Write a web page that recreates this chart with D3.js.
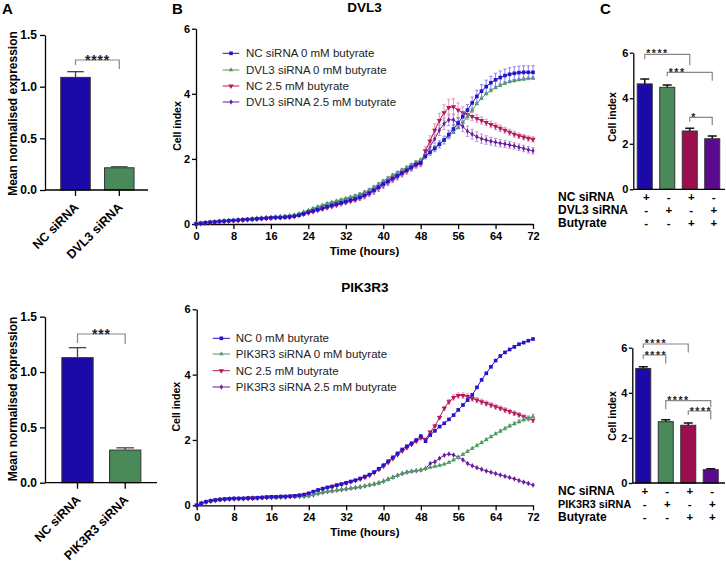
<!DOCTYPE html>
<html><head><meta charset="utf-8">
<script src="https://cdn.jsdelivr.net/npm/d3@7"></script>
<style>
html,body{margin:0;padding:0;background:#fff;}
svg{display:block;}
</style></head><body>
<svg id="c" width="726" height="562"></svg>
<script>
// ---------------- DATA ----------------
const hours = [0,1,2,3,4,5,6,7,8,9,10,11,12,13,14,15,16,17,18,19,20,21,22,23,24,25,26,27,28,29,30,31,32,33,34,35,36,37,38,39,40,41,42,43,44,45,46,47,48,49,50,51,52,53,54,55,56,57,58,59,60,61,62,63,64,65,66,67,68,69,70,71,72];
const hourTicks = [0,8,16,24,32,40,48,56,64,72];
const cellIndexTicks = [0,2,4,6];
const expressionTicks = [0,0.5,1.0,1.5];

// Panel A qPCR
const qpcrDVL3Cats = ["NC siRNA","DVL3 siRNA"];
const qpcrDVL3Mean = [1.09, 0.215];
const qpcrDVL3Err = [0.055, 0.01];
const qpcrDVL3Sig = "****";
const qpcrPIK3R3Cats = ["NC siRNA","PIK3R3 siRNA"];
const qpcrPIK3R3Mean = [1.13, 0.295];
const qpcrPIK3R3Err = [0.09, 0.02];
const qpcrPIK3R3Sig = "***";

// Panel B DVL3 time courses
const dvl3Legend = ["NC siRNA 0 mM butyrate","DVL3 siRNA 0 mM butyrate","NC 2.5 mM butyrate","DVL3 siRNA 2.5 mM butyrate"];
const dvl3NC0 = [0.00,0.02,0.04,0.05,0.06,0.08,0.09,0.10,0.11,0.12,0.13,0.14,0.15,0.16,0.17,0.18,0.19,0.20,0.20,0.21,0.22,
 0.24,0.27,0.31,0.36,0.40,0.44,0.48,0.53,0.57,0.61,0.65,0.69,0.73,0.77,0.82,0.88,0.95,1.04,1.13,1.23,1.31,1.40,1.48,1.57,1.65,1.74,1.83,1.88,
 2.08,2.20,2.32,2.45,2.58,2.75,2.92,3.10,3.30,3.50,3.72,3.92,4.08,4.22,4.34,4.43,4.50,4.56,4.60,4.63,4.65,4.66,4.66,4.66];
const dvl3Si0 = [0.00,0.02,0.04,0.06,0.07,0.09,0.10,0.11,0.12,0.13,0.14,0.15,0.16,0.18,0.19,0.20,0.21,0.22,0.23,0.24,0.26,
 0.28,0.32,0.37,0.42,0.48,0.53,0.58,0.63,0.67,0.71,0.75,0.79,0.83,0.87,0.92,0.98,1.05,1.13,1.22,1.32,1.41,1.50,1.58,1.66,1.74,1.82,1.90,1.97,
 2.10,2.22,2.34,2.46,2.58,2.70,2.82,2.96,3.12,3.30,3.50,3.70,3.86,4.00,4.10,4.19,4.26,4.32,4.37,4.40,4.43,4.45,4.47,4.48];
const dvl3NC25 = [0.00,0.02,0.03,0.05,0.06,0.07,0.08,0.09,0.10,0.11,0.12,0.13,0.14,0.15,0.16,0.17,0.18,0.19,0.19,0.20,0.21,
 0.23,0.26,0.30,0.34,0.38,0.42,0.46,0.50,0.54,0.58,0.62,0.66,0.70,0.74,0.79,0.85,0.92,1.00,1.09,1.18,1.27,1.36,1.44,1.53,1.62,1.71,1.80,1.85,
 2.25,2.55,2.88,3.18,3.42,3.58,3.60,3.50,3.42,3.36,3.30,3.24,3.18,3.12,3.06,3.00,2.94,2.88,2.82,2.76,2.71,2.67,2.63,2.60];
const dvl3Si25 = [0.00,0.02,0.04,0.05,0.07,0.08,0.09,0.10,0.11,0.12,0.13,0.14,0.15,0.17,0.18,0.19,0.20,0.21,0.22,0.23,0.25,
 0.27,0.30,0.35,0.40,0.45,0.50,0.55,0.59,0.63,0.67,0.71,0.75,0.79,0.83,0.88,0.94,1.01,1.09,1.18,1.27,1.36,1.45,1.53,1.61,1.69,1.77,1.85,1.92,
 2.15,2.38,2.62,2.88,3.08,3.20,3.20,3.10,3.00,2.85,2.76,2.68,2.62,2.58,2.54,2.51,2.48,2.46,2.43,2.40,2.36,2.32,2.28,2.25];
const dvl3NC0Err = [0.00,0.01,0.01,0.01,0.01,0.01,0.01,0.01,0.01,0.01,0.01,0.01,0.02,0.02,0.02,0.02,0.02,0.02,0.02,0.02,0.02,
 0.02,0.03,0.03,0.03,0.03,0.04,0.04,0.04,0.04,0.05,0.05,0.05,0.05,0.06,0.06,0.07,0.07,0.08,0.08,0.08,0.08,0.08,0.08,0.08,0.08,0.08,0.08,0.08,
 0.08,0.09,0.10,0.11,0.12,0.13,0.14,0.15,0.16,0.17,0.18,0.19,0.20,0.20,0.20,0.20,0.20,0.20,0.20,0.20,0.20,0.20,0.20,0.20];
const dvl3Si0Err = [0.00,0.01,0.01,0.01,0.01,0.01,0.01,0.01,0.01,0.01,0.01,0.01,0.01,0.01,0.01,0.01,0.01,0.01,0.01,0.01,0.01,
 0.02,0.02,0.02,0.02,0.02,0.02,0.02,0.02,0.02,0.02,0.02,0.02,0.02,0.03,0.03,0.03,0.03,0.03,0.03,0.03,0.03,0.03,0.03,0.03,0.03,0.03,0.03,0.03,
 0.03,0.03,0.03,0.03,0.03,0.03,0.03,0.03,0.04,0.04,0.04,0.04,0.04,0.04,0.04,0.04,0.04,0.04,0.04,0.04,0.04,0.04,0.04,0.04];
const dvl3NC25Err = [0.00,0.01,0.01,0.01,0.01,0.01,0.01,0.01,0.01,0.01,0.01,0.01,0.01,0.01,0.01,0.01,0.01,0.01,0.01,0.01,0.01,
 0.02,0.02,0.02,0.02,0.03,0.03,0.03,0.03,0.04,0.04,0.04,0.05,0.05,0.06,0.07,0.08,0.08,0.09,0.09,0.09,0.09,0.09,0.09,0.09,0.09,0.09,0.09,0.09,
 0.12,0.16,0.20,0.22,0.24,0.25,0.25,0.22,0.18,0.15,0.13,0.12,0.11,0.10,0.10,0.10,0.10,0.09,0.09,0.09,0.08,0.08,0.08,0.08];
const dvl3Si25Err = [0.00,0.01,0.01,0.01,0.01,0.01,0.01,0.01,0.01,0.01,0.01,0.01,0.01,0.01,0.01,0.01,0.01,0.01,0.01,0.01,0.01,
 0.02,0.02,0.02,0.02,0.03,0.03,0.03,0.03,0.04,0.04,0.04,0.05,0.05,0.06,0.07,0.08,0.08,0.09,0.09,0.09,0.09,0.09,0.09,0.09,0.09,0.09,0.09,0.09,
 0.10,0.12,0.14,0.16,0.18,0.18,0.18,0.17,0.16,0.16,0.15,0.15,0.14,0.13,0.12,0.12,0.11,0.11,0.10,0.10,0.10,0.10,0.10,0.10];

// Panel B PIK3R3 time courses
const pikLegend = ["NC 0 mM butyrate","PIK3R3 siRNA 0 mM butyrate","NC 2.5 mM butyrate","PIK3R3 siRNA 2.5 mM butyrate"];
const pikNC0 = [0.00,0.06,0.11,0.14,0.16,0.18,0.19,0.20,0.21,0.21,0.21,0.22,0.22,0.23,0.24,0.25,0.26,0.26,0.27,0.27,0.28,
 0.29,0.31,0.33,0.37,0.42,0.47,0.51,0.55,0.58,0.62,0.65,0.69,0.73,0.77,0.82,0.88,0.94,1.02,1.12,1.23,1.35,1.47,1.59,1.71,1.81,1.90,2.00,2.12,
 1.96,2.15,2.28,2.41,2.51,2.63,2.76,2.92,3.07,3.22,3.38,3.61,3.84,4.04,4.24,4.43,4.57,4.68,4.77,4.85,4.93,4.98,5.04,5.09];
const pikSi0 = [0.00,0.06,0.10,0.13,0.15,0.17,0.19,0.20,0.20,0.21,0.21,0.22,0.22,0.23,0.23,0.24,0.24,0.25,0.25,0.26,0.26,
 0.27,0.27,0.28,0.29,0.33,0.37,0.40,0.42,0.44,0.46,0.48,0.50,0.52,0.54,0.56,0.59,0.62,0.65,0.68,0.73,0.79,0.85,0.91,0.97,1.01,1.04,1.06,1.08,
 1.13,1.16,1.19,1.22,1.26,1.31,1.39,1.47,1.56,1.65,1.74,1.83,1.92,2.01,2.10,2.19,2.27,2.35,2.43,2.50,2.56,2.62,2.67,2.72];
const pikNC25 = [0.00,0.06,0.10,0.13,0.16,0.18,0.19,0.20,0.20,0.21,0.21,0.22,0.22,0.23,0.24,0.25,0.25,0.26,0.26,0.27,0.28,
 0.29,0.30,0.33,0.36,0.41,0.46,0.50,0.54,0.57,0.61,0.64,0.68,0.72,0.76,0.81,0.86,0.92,1.00,1.10,1.20,1.31,1.43,1.55,1.66,1.76,1.86,1.96,2.06,
 2.02,2.24,2.43,2.69,2.97,3.17,3.30,3.36,3.36,3.33,3.27,3.22,3.17,3.12,3.07,3.02,2.97,2.92,2.87,2.82,2.77,2.71,2.66,2.61];
const pikSi25 = [0.00,0.06,0.10,0.13,0.15,0.17,0.18,0.19,0.20,0.20,0.21,0.21,0.22,0.22,0.23,0.23,0.24,0.24,0.25,0.25,0.26,
 0.26,0.27,0.28,0.29,0.32,0.36,0.39,0.42,0.44,0.46,0.48,0.50,0.52,0.54,0.56,0.59,0.62,0.65,0.69,0.74,0.80,0.86,0.92,0.97,1.01,1.04,1.06,1.08,
 1.13,1.28,1.33,1.44,1.53,1.57,1.54,1.47,1.39,1.28,1.21,1.15,1.10,1.05,1.01,0.97,0.93,0.89,0.85,0.81,0.76,0.71,0.67,0.62];
const pikNC0Err = [0.00,0.01,0.01,0.01,0.01,0.01,0.01,0.01,0.01,0.01,0.01,0.01,0.01,0.01,0.01,0.01,0.01,0.01,0.01,0.01,0.01,
 0.02,0.02,0.02,0.02,0.02,0.02,0.02,0.02,0.02,0.02,0.02,0.02,0.02,0.02,0.02,0.02,0.02,0.02,0.02,0.02,0.02,0.02,0.02,0.02,0.02,0.02,0.02,0.02,
 0.03,0.03,0.03,0.03,0.03,0.03,0.03,0.03,0.03,0.03,0.03,0.03,0.03,0.03,0.03,0.03,0.03,0.03,0.03,0.03,0.03,0.03,0.03,0.03];
const pikSi0Err = [0.00,0.01,0.01,0.01,0.01,0.01,0.01,0.01,0.01,0.01,0.01,0.01,0.01,0.01,0.01,0.01,0.01,0.01,0.01,0.01,0.01,
 0.02,0.02,0.02,0.02,0.02,0.02,0.02,0.02,0.02,0.02,0.02,0.02,0.02,0.02,0.02,0.02,0.02,0.02,0.02,0.02,0.02,0.02,0.02,0.02,0.02,0.02,0.02,0.02,
 0.02,0.02,0.02,0.02,0.02,0.02,0.03,0.03,0.03,0.03,0.03,0.04,0.04,0.04,0.04,0.04,0.05,0.05,0.05,0.05,0.06,0.06,0.06,0.07];
const pikNC25Err = [0.00,0.01,0.01,0.01,0.01,0.01,0.01,0.01,0.01,0.01,0.01,0.01,0.01,0.01,0.01,0.01,0.01,0.01,0.01,0.01,0.01,
 0.02,0.02,0.02,0.02,0.02,0.02,0.02,0.02,0.02,0.02,0.02,0.02,0.02,0.02,0.02,0.02,0.02,0.02,0.02,0.02,0.02,0.02,0.02,0.02,0.02,0.02,0.02,0.02,
 0.02,0.03,0.04,0.05,0.06,0.07,0.08,0.08,0.08,0.08,0.08,0.08,0.08,0.07,0.07,0.07,0.07,0.07,0.07,0.07,0.07,0.07,0.07,0.07];
const pikSi25Err = [0.00,0.01,0.01,0.01,0.01,0.01,0.01,0.01,0.01,0.01,0.01,0.01,0.01,0.01,0.01,0.01,0.01,0.01,0.01,0.01,0.01,
 0.01,0.01,0.01,0.01,0.01,0.01,0.01,0.01,0.01,0.01,0.01,0.01,0.01,0.01,0.01,0.01,0.01,0.01,0.01,0.01,0.01,0.01,0.01,0.01,0.01,0.01,0.01,0.01,
 0.02,0.02,0.02,0.02,0.02,0.02,0.02,0.02,0.02,0.02,0.02,0.02,0.02,0.02,0.02,0.02,0.02,0.02,0.02,0.02,0.02,0.02,0.02,0.02];

// Panel C endpoint bars
const barDVL3Mean = [4.63, 4.48, 2.56, 2.22];
const barDVL3Err = [0.21, 0.10, 0.12, 0.12];
const barPIK3R3Mean = [5.08, 2.72, 2.56, 0.59];
const barPIK3R3Err = [0.07, 0.08, 0.10, 0.04];
const rowsDVL3 = ["NC siRNA","DVL3 siRNA","Butyrate"];
const rowsPIK3R3 = ["NC siRNA","PIK3R3 siRNA","Butyrate"];
const rowSigns = [["+","-","+","-"],["-","+","-","+"],["-","-","+","+"]];
const sigDVL3 = [["****",0,2],["***",1,3],["*",2,3]];
const sigPIK3R3 = [["****",0,2],["****",0,1],["****",1,3],["****",2,3]];

// ---------------- STYLE ----------------
const FONT = '"Liberation Sans", Arial, Helvetica, sans-serif';
const COL = {blue:"#2414cc", green:"#4f9a63", pink:"#b3195b", purple:"#6a1b9e"};
const ECOL = {blue:"#7f76e6", green:"#93c9a2", pink:"#e08db0", purple:"#b28ad2"};
const BAR = ["#1c0aa8","#4a8a58","#9c0f4e","#5a0b8c"];

const svg = d3.select("#c").attr("font-family", FONT);

function styleAxis(g, fs){
  g.attr("font-family", FONT).attr("font-size", fs).attr("font-weight","bold");
  g.select(".domain").attr("stroke","#000").attr("stroke-width",1.3);
  g.selectAll(".tick line").attr("stroke","#000").attr("stroke-width",1.3);
  g.selectAll(".tick text").attr("fill","#000");
}
function text(x,y,s,o){
  o = o||{};
  const t = svg.append("text").attr("x",x).attr("y",y).text(s)
    .attr("font-size",o.fs||11).attr("font-weight",o.fw||"bold")
    .attr("text-anchor",o.anchor||"start").attr("fill",o.fill||"#000");
  if(o.rot!==undefined) t.attr("transform",`rotate(${o.rot},${x},${y})`);
  if(o.ls) t.attr("letter-spacing",o.ls);
  return t;
}

// panel letters
text(2,14,"A",{fs:15});
text(172,14,"B",{fs:15});
text(600,14,"C",{fs:15});

// ---------------- PANEL A ----------------
function qpcrPanel(cats, means, errs, sig, cfg){
  const y = d3.scaleLinear().domain([0,1.5]).range([cfg.y0, cfg.yTop]);
  const x = d3.scaleBand().domain(cats).range(cfg.xr).paddingInner(cfg.pi).paddingOuter(0.5);
  const g = svg.append("g");
  g.selectAll("rect").data(cats).join("rect")
    .attr("x",d=>x(d)).attr("width",x.bandwidth())
    .attr("y",(d,i)=>y(means[i])).attr("height",(d,i)=>y(0)-y(means[i]))
    .attr("fill",(d,i)=>BAR[i]).attr("stroke","#333").attr("stroke-width",1);
  cats.forEach((c,i)=>{
    const cx = x(c)+x.bandwidth()/2, w = x.bandwidth()*0.28;
    g.append("line").attr("x1",cx).attr("x2",cx).attr("y1",y(means[i])).attr("y2",y(means[i]+errs[i])).attr("stroke","#444").attr("stroke-width",1.3);
    g.append("line").attr("x1",cx-w).attr("x2",cx+w).attr("y1",y(means[i]+errs[i])).attr("y2",y(means[i]+errs[i])).attr("stroke","#444").attr("stroke-width",1.3);
  });
  const ya = g.append("g").attr("transform",`translate(${cfg.ax},0)`)
    .call(d3.axisLeft(y).tickValues(expressionTicks).tickFormat(d3.format(".1f")).tickSize(5).tickPadding(3).tickSizeOuter(0));
  styleAxis(ya, 12);
  const xa = g.append("g").attr("transform",`translate(0,${cfg.y0})`)
    .call(d3.axisBottom(x).tickSize(6).tickFormat(""));
  styleAxis(xa, 12);
  xa.select(".domain").remove();
  g.append("line").attr("x1",cfg.ax).attr("x2",cfg.xEnd).attr("y1",cfg.y0).attr("y2",cfg.y0).attr("stroke","#000").attr("stroke-width",1.3);
  cats.forEach(c=>{
    const cx = x(c)+x.bandwidth()/2;
    text(cx+4, cfg.y0+18, c, {fs:12.5, anchor:"end", rot:-45});
  });
  text(16.5, cfg.labelY, "Mean normalised expression", {fs:12, anchor:"middle", rot:-90});
  const c0 = x(cats[0])+x.bandwidth()/2, c1 = x(cats[1])+x.bandwidth()/2;
  const p = `M${c0},${cfg.by+cfg.legL}V${cfg.by}H${c1}V${cfg.by+cfg.legR}`;
  g.append("path").attr("d",p).attr("fill","none").attr("stroke","#888").attr("stroke-width",1.2);
  text((c0+c1)/2, cfg.by+4.5, sig, {fs:14, anchor:"middle", ls:0.8, fill:"#222"});
}
qpcrPanel(qpcrDVL3Cats, qpcrDVL3Mean, qpcrDVL3Err, qpcrDVL3Sig,
  {y0:190, yTop:35, xr:[38.85,155.95], pi:0.3265, ax:45, xEnd:148, labelY:113.5, by:60, legL:5, legR:9});
qpcrPanel(qpcrPIK3R3Cats, qpcrPIK3R3Mean, qpcrPIK3R3Err, qpcrPIK3R3Sig,
  {y0:482.7, yTop:316.7, xr:[38,164.7], pi:0.344, ax:45, xEnd:157, labelY:399, by:334, legL:9, legR:10});

// ---------------- PANEL B ----------------
const SYM = [
  {type:d3.symbolSquare, size:13, rot:0},
  {type:d3.symbolTriangle, size:9, rot:0},
  {type:d3.symbolTriangle, size:12, rot:180},
  {type:d3.symbolDiamond, size:9, rot:0}
];
const KEYS = ["blue","green","pink","purple"];

function lineChart(cfg){
  const x = d3.scaleLinear().domain([0,72]).range([cfg.x0, cfg.x1]);
  const y = d3.scaleLinear().domain([0,6]).range([cfg.y0, cfg.y6]);
  const g = svg.append("g");
  text((cfg.x0+cfg.x1)/2, cfg.titleY, cfg.title, {fs:13.5, anchor:"middle"});
  const xa = g.append("g").attr("transform",`translate(0,${cfg.y0})`)
    .call(d3.axisBottom(x).tickValues(hourTicks).tickFormat(d3.format("d")).tickSize(5).tickPadding(3).tickSizeOuter(0));
  styleAxis(xa, 11);
  const ya = g.append("g").attr("transform",`translate(${cfg.x0},0)`)
    .call(d3.axisLeft(y).tickValues(cellIndexTicks).tickFormat(d3.format("d")).tickSize(4).tickPadding(2).tickSizeOuter(0));
  styleAxis(ya, 11);
  text((cfg.x0+cfg.x1)/2, cfg.y0+31, "Time (hours)", {fs:11.5, anchor:"middle"});
  text(cfg.labX, cfg.labY, "Cell index", {fs:10.5, anchor:"middle", rot:-90});
  const order = [3,2,1,0];
  order.forEach(i=>{
    const s = cfg.series[i];
    const k = KEYS[i];
    const sg = g.append("g");
    hours.forEach((h,j)=>{
      const e = s.err[j];
      if(e < 0.015) return;
      const cx = x(h), yt = y(s.vals[j]+e), yb = y(s.vals[j]-e);
      sg.append("path").attr("d",`M${cx},${yt}V${yb}M${cx-1.6},${yt}H${cx+1.6}M${cx-1.6},${yb}H${cx+1.6}`)
        .attr("stroke",ECOL[k]).attr("stroke-width",0.9).attr("fill","none");
    });
    const line = d3.line().x((d,j)=>x(hours[j])).y(d=>y(d));
    sg.append("path").datum(s.vals).attr("d",line).attr("fill","none").attr("stroke",COL[k]).attr("stroke-width",1);
    const sym = d3.symbol().type(SYM[i].type).size(SYM[i].size);
    sg.selectAll("path.m").data(s.vals).join("path").attr("class","m")
      .attr("d",sym).attr("fill",COL[k])
      .attr("transform",(d,j)=>`translate(${x(hours[j])},${y(d)}) rotate(${SYM[i].rot})`);
  });
  cfg.legend.forEach((lab,i)=>{
    const k = KEYS[i], ly = cfg.legY[i];
    g.append("line").attr("x1",cfg.lx0).attr("x2",cfg.lx1).attr("y1",ly).attr("y2",ly).attr("stroke",COL[k]).attr("stroke-width",1);
    g.append("path").attr("d",d3.symbol().type(SYM[i].type).size(SYM[i].size)())
      .attr("fill",COL[k]).attr("transform",`translate(${(cfg.lx0+cfg.lx1)/2},${ly}) rotate(${SYM[i].rot})`);
    text(cfg.tx, ly+4, lab, {fs:11.5, fw:"normal", fill:"#222"});
  });
}
lineChart({title:"DVL3", titleY:11.5, x0:196, x1:533, y0:224, y6:28.7, labX:180.5, labY:126,
  series:[{vals:dvl3NC0,err:dvl3NC0Err},{vals:dvl3Si0,err:dvl3Si0Err},{vals:dvl3NC25,err:dvl3NC25Err},{vals:dvl3Si25,err:dvl3Si25Err}],
  legend:dvl3Legend, legY:[53.3,70,86,102], lx0:222.7, lx1:239.3, tx:246});
lineChart({title:"PIK3R3", titleY:292, x0:196.7, x1:533, y0:505.3, y6:309.3, labX:180, labY:406.7,
  series:[{vals:pikNC0,err:pikNC0Err},{vals:pikSi0,err:pikSi0Err},{vals:pikNC25,err:pikNC25Err},{vals:pikSi25,err:pikSi25Err}],
  legend:pikLegend, legY:[338.3,354,370.7,387], lx0:212.7, lx1:230, tx:235.7});

// ---------------- PANEL C ----------------
function barPanel(cats, means, errs, rows, sigs, cfg){
  const y = d3.scaleLinear().domain([0,6]).range([cfg.y0, cfg.y6]);
  const x = d3.scaleBand().domain(cats).range(cfg.xr).paddingInner(0.333).paddingOuter(0.1667);
  const g = svg.append("g");
  const cx = c => x(c)+x.bandwidth()/2;
  g.selectAll("rect").data(cats).join("rect")
    .attr("x",d=>x(d)).attr("width",x.bandwidth())
    .attr("y",(d,i)=>y(means[i])).attr("height",(d,i)=>y(0)-y(means[i]))
    .attr("fill",(d,i)=>BAR[i]).attr("stroke","#333").attr("stroke-width",1);
  cats.forEach((c,i)=>{
    const xc = cx(c), w = 4.5, yt = y(means[i]+errs[i]);
    g.append("path").attr("d",`M${xc},${y(means[i])}V${yt}M${xc-w},${yt}H${xc+w}`)
      .attr("stroke","#111").attr("stroke-width",1.5).attr("fill","none");
  });
  const ya = g.append("g").attr("transform",`translate(${cfg.ax},0)`)
    .call(d3.axisLeft(y).tickValues(cellIndexTicks).tickFormat(d3.format("d")).tickSize(3.5).tickPadding(1.5).tickSizeOuter(0));
  styleAxis(ya, 11);
  g.append("line").attr("x1",cfg.ax).attr("x2",cfg.xEnd).attr("y1",cfg.y0).attr("y2",cfg.y0).attr("stroke","#000").attr("stroke-width",1.3);
  text(cfg.labX, cfg.labY, "Cell index", {fs:10.5, anchor:"middle", rot:-90});
  rows.forEach((r,ri)=>{
    text(558, cfg.rowY[ri], r, {fs:cfg.rowFs[ri]});
    rowSigns[ri].forEach((s,ci)=>{
      text(cx(cats[ci])+1.5, cfg.rowY[ri], s, {fs:11.5, anchor:"middle"});
    });
  });
  sigs.forEach((s,si)=>{
    const b = cfg.br[si];
    const a = cx(cats[s[1]]), c = cx(cats[s[2]]);
    g.append("path").attr("d",`M${a},${b[0]+b[1]}V${b[0]}H${c}V${b[0]+b[2]}`)
      .attr("fill","none").attr("stroke","#888").attr("stroke-width",1.2);
    text(a+1.5, b[0]+b[3], s[0], {fs:10.5, ls:1.5, fill:"#222"});
  });
}
barPanel(dvl3Legend, barDVL3Mean, barDVL3Err, rowsDVL3, sigDVL3,
  {y0:189.3, y6:52.7, xr:[633.5,723.5], ax:633.3, xEnd:725, labX:615.5, labY:117, rowY:[200.5,214,227], rowFs:[12,12,12],
   br:[[54.3,5,11,3],[72.3,4,8.5,3.5],[117.3,4.5,8,3.5]]});
barPanel(pikLegend, barPIK3R3Mean, barPIK3R3Err, rowsPIK3R3, sigPIK3R3,
  {y0:483, y6:347.7, xr:[632,722], ax:632.3, xEnd:725, labX:615.5, labY:416, rowY:[495,508,520.5], rowFs:[12,10.8,12],
   br:[[344,4,8.5,2.5],[355,4,8.5,4],[400.7,8.5,6.5,3],[411,4,8.5,4]]});
</script>
</body></html>
